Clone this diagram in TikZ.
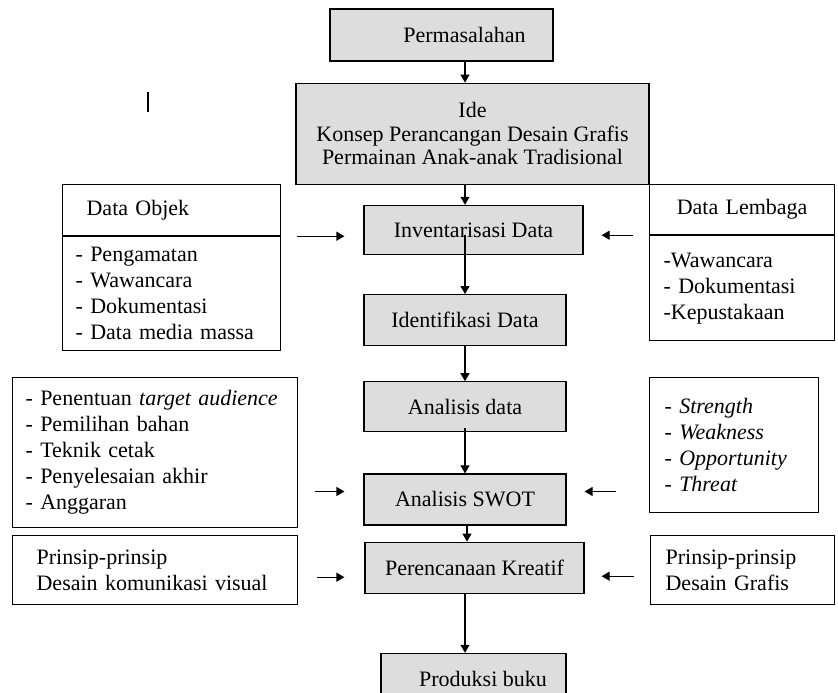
\documentclass[tikz,border=0pt]{standalone}
\usepackage{fontspec}
\setmainfont{Liberation Serif}
\usetikzlibrary{arrows.meta,calc,positioning}
\definecolor{boxgray}{RGB}{221,221,221}

\begin{document}
\begin{tikzpicture}[x=1pt, y=-1pt, line width=1.2pt, >={Triangle[length=8pt,width=9pt]},
 font=\fontsize{22}{26}\selectfont,
   stage/.style = {draw, fill=boxgray, inner sep=0pt, align=center},
 listbox/.style = {draw, fill=white, anchor=north west, inner ysep=0pt, align=left},
                        ]
    \useasboundingbox (0,0) rectangle (838,693);

    % main column
    \node [stage, minimum width=223pt, minimum height=52pt] (perm) at (441.5,35)
          {\hspace*{46pt}Permasalahan};
    \node [stage, minimum width=353pt, minimum height=101pt, font=\fontsize{22}{23.5}\selectfont,
           below=21pt of perm, xshift=31pt]        (ide)   {Ide\\Konsep Perancangan Desain Grafis\\Permainan Anak-anak Tradisional};
    \node [stage, minimum width=219pt, minimum height=49pt,
           below=20pt of ide, xshift=1pt]          (inv)   {Inventarisasi Data};
    \node [stage, minimum width=202pt, minimum height=51pt,
           below=39pt of inv, xshift=-8.5pt]       (ident) {Identifikasi Data};
    \node [stage, minimum width=202pt, minimum height=50pt,
           below=35pt of ident]                    (anl)   {Analisis data};
    \node [stage, minimum width=202pt, minimum height=51pt,
           below=41pt of anl]                      (swot)  {Analisis SWOT};
    \node [stage, minimum width=219pt, minimum height=51pt,
           below=16pt of swot, xshift=9.5pt]       (plan)  {Perencanaan Kreatif};
    \node [stage, minimum width=185pt, minimum height=52pt,
           below=59pt of plan, xshift=-1pt]        (prod)  {\hspace*{19pt}Produksi buku};

    % side boxes
    \node [listbox, text width=170pt, inner xsep=24pt, minimum height=51pt]  (objT) at (62,184) {Data Objek};
    \node [listbox, text width=192pt, inner xsep=13pt, minimum height=114pt] (objL) at (objT.south west)
          {- Pengamatan\\- Wawancara\\- Dokumentasi\\- Data media massa};
    \node [listbox, align=center, text width=157pt, inner xsep=14pt, minimum height=50pt] (lemT) at (649,184) {Data Lembaga};
    \node [listbox, text width=157pt, inner xsep=14pt, minimum height=105pt] (lemL) at (lemT.south west)
          {-Wawancara\\- Dokumentasi\\-Kepustakaan};
    \node [listbox, text width=259pt, inner xsep=13pt, minimum height=150pt] (aud) at (12,377)
          {- Penentuan \textit{target audience}\\- Pemilihan bahan\\- Teknik cetak\\- Penyelesaian akhir\\- Anggaran};
    \node [listbox, text width=139pt, inner xsep=15pt, minimum height=135pt] (sw) at (649,377)
          {- \textit{Strength}\\- \textit{Weakness}\\- \textit{Opportunity}\\- \textit{Threat}};
    \node [listbox, text width=237pt, inner xsep=24pt, minimum height=69pt]  (prL) at (12,535)
          {Prinsip-prinsip\\Desain komunikasi visual};
    \node [listbox, text width=154pt, inner xsep=15pt, minimum height=69pt]  (prR) at (650,535)
          {Prinsip-prinsip\\Desain Grafis};

    \coordinate (spine) at (465,0);

    \path[->] (perm.south -| spine)                   edge (ide.north -| spine)
              (ide.south -| spine)                    edge (inv.north -| spine)
              ($(inv.center -| spine)+(0,5)$)         edge (ident.north -| spine)
              (ident.south -| spine)                  edge (anl.north -| spine)
              ($(anl.south -| spine)+(0,-4)$)         edge (swot.north -| spine)
              ($(swot.south -| spine)+(2,0)$)         edge ($(plan.north -| spine)+(2,0)$)
              (plan.south -| spine)                   edge (prod.north -| spine)
               ;

    \draw[->, shorten <=16pt, shorten >=19pt] (objT.south east) -- (objT.south east -| inv.west);
    \draw[->, shorten <=16pt, shorten >=18pt] (lemT.south west) -- (lemT.south west -| inv.east);
    \draw[->, shorten <=17pt, shorten >=19pt] ($(aud.east |- swot.west)+(0,-8)$) -- ($(swot.west)+(0,-8)$);
    \draw[->, shorten <=33pt, shorten >=18pt] ($(sw.west |- swot.east)+(0,-8)$) -- ($(swot.east)+(0,-8)$);
    \draw[->, shorten <=19pt, shorten >=20pt] ($(prL.east |- plan.west)+(0,9.5)$) -- ($(plan.west)+(0,9.5)$);
    \draw[->, shorten <=16pt, shorten >=17pt] ($(prR.west |- plan.east)+(0,8.5)$) -- ($(plan.east)+(0,8.5)$);

    % stray cursor mark
    \draw (148,92) -- (148,112);
\end{tikzpicture}
\end{document}
